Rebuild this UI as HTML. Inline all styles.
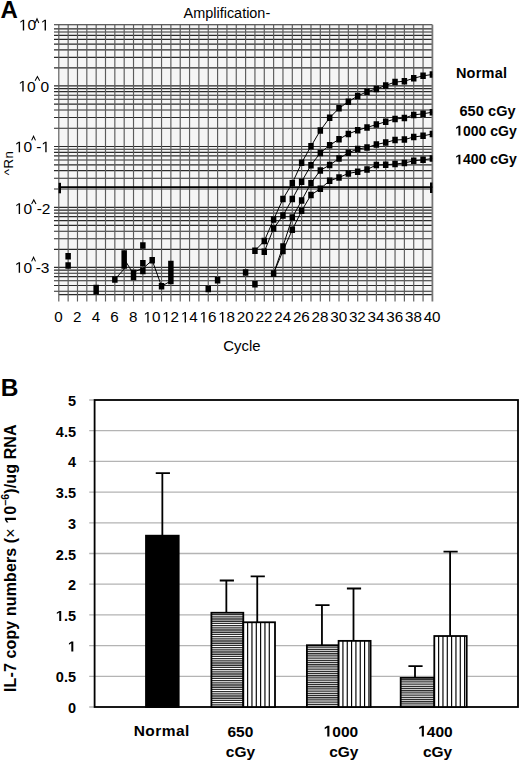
<!DOCTYPE html>
<html><head><meta charset="utf-8"><style>
html,body{margin:0;padding:0;background:#fff;}
svg{display:block;}
text{font-family:"Liberation Sans", sans-serif;fill:#000;font-kerning:none;}
</style></head><body>
<svg width="520" height="763" viewBox="0 0 520 763">
<rect width="520" height="763" fill="#fff"/>
<rect x="58.80" y="24.70" width="373.60" height="269.90" fill="#f5f5f5"/>
<clipPath id="pa"><rect x="58.80" y="20.70" width="373.60" height="273.90"/></clipPath>
<path d="M54.0 291.28H432.40M54.0 285.46H432.40M54.0 280.71H432.40M54.0 276.69H432.40M54.0 273.21H432.40M54.0 270.15H432.40M54.0 267.40H432.40M54.0 249.31H432.40M54.0 238.73H432.40M54.0 231.22H432.40M54.0 225.39H432.40M54.0 220.63H432.40M54.0 216.61H432.40M54.0 213.12H432.40M54.0 210.05H432.40M54.0 207.30H432.40M54.0 189.00H432.40M54.0 178.29H432.40M54.0 170.69H432.40M54.0 164.80H432.40M54.0 159.99H432.40M54.0 155.92H432.40M54.0 152.39H432.40M54.0 149.28H432.40M54.0 146.50H432.40M54.0 128.23H432.40M54.0 117.54H432.40M54.0 109.95H432.40M54.0 104.07H432.40M54.0 99.27H432.40M54.0 95.20H432.40M54.0 91.68H432.40M54.0 88.58H432.40M54.0 85.80H432.40M54.0 67.86H432.40M54.0 57.36H432.40M54.0 49.92H432.40M54.0 44.14H432.40M54.0 39.42H432.40M54.0 35.43H432.40M54.0 31.98H432.40M54.0 28.93H432.40M54.0 24.70H432.40" stroke="#2a2a2a" stroke-width="1.15" fill="none"/>
<path d="M58.80 294.60H432.40" stroke="#2a2a2a" stroke-width="1.15" fill="none"/>
<path d="M58.80 24.70V301.5M68.14 24.70V301.5M77.48 24.70V301.5M86.82 24.70V301.5M96.16 24.70V301.5M105.50 24.70V301.5M114.84 24.70V301.5M124.18 24.70V301.5M133.52 24.70V301.5M142.86 24.70V301.5M152.20 24.70V301.5M161.54 24.70V301.5M170.88 24.70V301.5M180.22 24.70V301.5M189.56 24.70V301.5M198.90 24.70V301.5M208.24 24.70V301.5M217.58 24.70V301.5M226.92 24.70V301.5M236.26 24.70V301.5M245.60 24.70V301.5M254.94 24.70V301.5M264.28 24.70V301.5M273.62 24.70V301.5M282.96 24.70V301.5M292.30 24.70V301.5M301.64 24.70V301.5M310.98 24.70V301.5M320.32 24.70V301.5M329.66 24.70V301.5M339.00 24.70V301.5M348.34 24.70V301.5M357.68 24.70V301.5M367.02 24.70V301.5M376.36 24.70V301.5M385.70 24.70V301.5M395.04 24.70V301.5M404.38 24.70V301.5M413.72 24.70V301.5M423.06 24.70V301.5" stroke="#5c5c5c" stroke-width="1.15" fill="none"/>
<path d="M432.40 24.70V301.5" stroke="#777" stroke-width="1.8" fill="none"/>
<path d="M58.80 187.2H432.40" stroke="#000" stroke-width="1.8"/>
<rect x="58.60" y="182.8" width="2.4" height="10.5" fill="#000"/>
<rect x="430.00" y="182.5" width="2.4" height="10.5" fill="#000"/>
<g clip-path="url(#pa)">
<path d="M254.94 250.70L264.28 241.00L273.62 219.50L282.96 199.00L292.30 183.20L301.64 162.80L310.98 146.30L320.32 130.50L329.66 117.80L339.00 108.30L348.34 101.70L357.68 96.00L367.02 91.70L376.36 89.00L385.70 85.40L395.04 82.10L404.38 81.20L413.72 78.30L423.06 75.80L432.40 74.50M264.28 251.80L273.62 228.50L282.96 215.50L292.30 199.00L301.64 181.70L310.98 165.20L320.32 152.90L329.66 145.20L339.00 139.30L348.34 133.90L357.68 130.30L367.02 127.40L376.36 124.60L385.70 121.70L395.04 119.10L404.38 118.00L413.72 114.90L423.06 113.80L432.40 112.20M273.62 273.40L282.96 246.40L292.30 217.50L301.64 200.50L310.98 183.20L320.32 170.40L329.66 165.00L339.00 158.60L348.34 152.80L357.68 149.00L367.02 147.50L376.36 144.50L385.70 142.50L395.04 140.00L404.38 139.60L413.72 137.00L423.06 135.80L432.40 134.00M273.62 273.40L282.96 250.90L292.30 229.80L301.64 210.80L310.98 195.00L320.32 188.70L329.66 180.80L339.00 177.50L348.34 173.40L357.68 171.80L367.02 169.50L376.36 165.00L385.70 164.80L395.04 164.00L404.38 163.00L413.72 160.80L423.06 159.80L432.40 158.50M114.84 279.40L124.18 269.00L124.18 259.00L133.52 274.00L133.52 272.00L142.86 268.50L152.20 260.30L161.54 286.20L170.88 281.00" stroke="#000" stroke-width="1" fill="none"/>
<path d="M252.19 247.45h5.5v6.5h-5.5zM261.53 237.75h5.5v6.5h-5.5zM270.87 216.25h5.5v6.5h-5.5zM280.21 195.75h5.5v6.5h-5.5zM289.55 179.95h5.5v6.5h-5.5zM298.89 159.55h5.5v6.5h-5.5zM308.23 143.05h5.5v6.5h-5.5zM317.57 127.25h5.5v6.5h-5.5zM326.91 114.55h5.5v6.5h-5.5zM336.25 105.05h5.5v6.5h-5.5zM345.59 98.45h5.5v6.5h-5.5zM354.93 92.75h5.5v6.5h-5.5zM364.27 88.45h5.5v6.5h-5.5zM373.61 85.75h5.5v6.5h-5.5zM382.95 82.15h5.5v6.5h-5.5zM392.29 78.85h5.5v6.5h-5.5zM401.63 77.95h5.5v6.5h-5.5zM410.97 75.05h5.5v6.5h-5.5zM420.31 72.55h5.5v6.5h-5.5zM429.65 71.25h5.5v6.5h-5.5zM261.53 248.55h5.5v6.5h-5.5zM270.87 225.25h5.5v6.5h-5.5zM280.21 212.25h5.5v6.5h-5.5zM289.55 195.75h5.5v6.5h-5.5zM298.89 178.45h5.5v6.5h-5.5zM308.23 161.95h5.5v6.5h-5.5zM317.57 149.65h5.5v6.5h-5.5zM326.91 141.95h5.5v6.5h-5.5zM336.25 136.05h5.5v6.5h-5.5zM345.59 130.65h5.5v6.5h-5.5zM354.93 127.05h5.5v6.5h-5.5zM364.27 124.15h5.5v6.5h-5.5zM373.61 121.35h5.5v6.5h-5.5zM382.95 118.45h5.5v6.5h-5.5zM392.29 115.85h5.5v6.5h-5.5zM401.63 114.75h5.5v6.5h-5.5zM410.97 111.65h5.5v6.5h-5.5zM420.31 110.55h5.5v6.5h-5.5zM429.65 108.95h5.5v6.5h-5.5zM270.87 270.15h5.5v6.5h-5.5zM280.21 243.15h5.5v6.5h-5.5zM289.55 214.25h5.5v6.5h-5.5zM298.89 197.25h5.5v6.5h-5.5zM308.23 179.95h5.5v6.5h-5.5zM317.57 167.15h5.5v6.5h-5.5zM326.91 161.75h5.5v6.5h-5.5zM336.25 155.35h5.5v6.5h-5.5zM345.59 149.55h5.5v6.5h-5.5zM354.93 145.75h5.5v6.5h-5.5zM364.27 144.25h5.5v6.5h-5.5zM373.61 141.25h5.5v6.5h-5.5zM382.95 139.25h5.5v6.5h-5.5zM392.29 136.75h5.5v6.5h-5.5zM401.63 136.35h5.5v6.5h-5.5zM410.97 133.75h5.5v6.5h-5.5zM420.31 132.55h5.5v6.5h-5.5zM429.65 130.75h5.5v6.5h-5.5zM270.87 270.15h5.5v6.5h-5.5zM280.21 247.65h5.5v6.5h-5.5zM289.55 226.55h5.5v6.5h-5.5zM298.89 207.55h5.5v6.5h-5.5zM308.23 191.75h5.5v6.5h-5.5zM317.57 185.45h5.5v6.5h-5.5zM326.91 177.55h5.5v6.5h-5.5zM336.25 174.25h5.5v6.5h-5.5zM345.59 170.15h5.5v6.5h-5.5zM354.93 168.55h5.5v6.5h-5.5zM364.27 166.25h5.5v6.5h-5.5zM373.61 161.75h5.5v6.5h-5.5zM382.95 161.55h5.5v6.5h-5.5zM392.29 160.75h5.5v6.5h-5.5zM401.63 159.75h5.5v6.5h-5.5zM410.97 157.55h5.5v6.5h-5.5zM420.31 156.55h5.5v6.5h-5.5zM429.65 155.25h5.5v6.5h-5.5zM65.39 253.05h5.5v6.5h-5.5zM65.39 262.25h5.5v6.5h-5.5zM93.41 284.75h5.5v6.5h-5.5zM93.41 288.25h5.5v6.5h-5.5zM112.09 276.15h5.5v6.5h-5.5zM121.43 250.25h5.5v6.5h-5.5zM121.43 256.25h5.5v6.5h-5.5zM121.43 262.25h5.5v6.5h-5.5zM130.77 269.75h5.5v6.5h-5.5zM130.77 273.75h5.5v6.5h-5.5zM140.11 242.15h5.5v6.5h-5.5zM140.11 260.05h5.5v6.5h-5.5zM140.11 267.75h5.5v6.5h-5.5zM149.45 256.95h5.5v6.5h-5.5zM158.79 282.95h5.5v6.5h-5.5zM168.13 260.75h5.5v6.5h-5.5zM168.13 266.75h5.5v6.5h-5.5zM168.13 272.75h5.5v6.5h-5.5zM168.13 277.75h5.5v6.5h-5.5zM205.49 285.65h5.5v6.5h-5.5zM214.83 277.05h5.5v6.5h-5.5zM242.85 269.35h5.5v6.5h-5.5zM252.19 281.05h5.5v6.5h-5.5z" fill="#000"/>
</g>
<text x="0.5" y="18.2" font-size="24" font-weight="bold">A</text>
<text x="183.6" y="17.6" font-size="15.3" textLength="86.6" lengthAdjust="spacingAndGlyphs">Amplification-</text>
<text x="18.90" y="30.40" font-size="15.5"> 0</text><path d="M22.80 30.40L24.17 30.40L24.17 19.74L22.91 19.74L20.39 21.47L20.39 22.76L22.80 21.04z"/>
<text x="40.70" y="30.40" font-size="15.5"> </text><path d="M44.60 30.40L45.97 30.40L45.97 19.74L44.71 19.74L42.19 21.47L42.19 22.76L44.60 21.04z"/>
<path d="M35.2 23.0L37.00 18.8L38.8 23.0" stroke="#000" stroke-width="1.05" fill="none"/>
<text x="18.40" y="91.60" font-size="15.5"> 0</text><path d="M22.30 91.60L23.67 91.60L23.67 80.94L22.41 80.94L19.89 82.67L19.89 83.96L22.30 82.24z"/>
<text x="40.40" y="91.60" font-size="15.5">0</text>
<path d="M35.1 80.8L37.40 76.6L39.7 80.8" stroke="#000" stroke-width="1.05" fill="none"/>
<text x="14.80" y="152.30" font-size="15.5"> 0</text><path d="M18.70 152.30L20.07 152.30L20.07 141.64L18.81 141.64L16.29 143.37L16.29 144.66L18.70 142.94z"/>
<text x="36.20" y="152.30" font-size="15.5">- </text><path d="M45.26 152.30L46.63 152.30L46.63 141.64L45.37 141.64L42.85 143.37L42.85 144.66L45.26 142.94z"/>
<path d="M31.6 140.4L33.55 136.2L35.5 140.4" stroke="#000" stroke-width="1.05" fill="none"/>
<text x="14.80" y="213.90" font-size="15.5"> 0</text><path d="M18.70 213.90L20.07 213.90L20.07 203.24L18.81 203.24L16.29 204.97L16.29 206.26L18.70 204.54z"/>
<text x="36.70" y="213.90" font-size="15.5">-2</text>
<path d="M31.6 204.1L33.80 199.9L36.0 204.1" stroke="#000" stroke-width="1.05" fill="none"/>
<text x="14.80" y="272.80" font-size="15.5"> 0</text><path d="M18.70 272.80L20.07 272.80L20.07 262.14L18.81 262.14L16.29 263.87L16.29 265.16L18.70 263.44z"/>
<text x="35.70" y="272.80" font-size="15.5">-3</text>
<path d="M31.6 261.4L33.55 257.2L35.5 261.4" stroke="#000" stroke-width="1.05" fill="none"/>
<text transform="translate(13.1,175.3) rotate(-90)" font-size="13.3" letter-spacing="0.5">^Rn</text>
<text x="54.27" y="322.40" font-size="15.2">0</text>
<text x="72.95" y="322.40" font-size="15.2">2</text>
<text x="91.63" y="322.40" font-size="15.2">4</text>
<text x="110.31" y="322.40" font-size="15.2">6</text>
<text x="128.99" y="322.40" font-size="15.2">8</text>
<text x="143.45" y="322.40" font-size="15.2"> 0</text><path d="M147.27 322.40L148.61 322.40L148.61 311.94L147.38 311.94L144.91 313.64L144.91 314.90L147.27 313.22z"/>
<text x="162.13" y="322.40" font-size="15.2"> 2</text><path d="M165.95 322.40L167.29 322.40L167.29 311.94L166.06 311.94L163.59 313.64L163.59 314.90L165.95 313.22z"/>
<text x="180.81" y="322.40" font-size="15.2"> 4</text><path d="M184.63 322.40L185.97 322.40L185.97 311.94L184.74 311.94L182.27 313.64L182.27 314.90L184.63 313.22z"/>
<text x="199.49" y="322.40" font-size="15.2"> 6</text><path d="M203.31 322.40L204.65 322.40L204.65 311.94L203.42 311.94L200.95 313.64L200.95 314.90L203.31 313.22z"/>
<text x="218.17" y="322.40" font-size="15.2"> 8</text><path d="M221.99 322.40L223.33 322.40L223.33 311.94L222.10 311.94L219.63 313.64L219.63 314.90L221.99 313.22z"/>
<text x="236.85" y="322.40" font-size="15.2">20</text>
<text x="255.53" y="322.40" font-size="15.2">22</text>
<text x="274.21" y="322.40" font-size="15.2">24</text>
<text x="292.89" y="322.40" font-size="15.2">26</text>
<text x="311.57" y="322.40" font-size="15.2">28</text>
<text x="330.25" y="322.40" font-size="15.2">30</text>
<text x="348.93" y="322.40" font-size="15.2">32</text>
<text x="367.61" y="322.40" font-size="15.2">34</text>
<text x="386.29" y="322.40" font-size="15.2">36</text>
<text x="404.97" y="322.40" font-size="15.2">38</text>
<text x="423.65" y="322.40" font-size="15.2">40</text>
<text x="223.3" y="351.3" font-size="15.4" textLength="37.2" lengthAdjust="spacingAndGlyphs">Cycle</text>
<text x="455.90" y="77.80" font-size="14.5" font-weight="bold" letter-spacing="0.25">Normal</text>
<text x="459.40" y="115.90" font-size="14.5" font-weight="bold" letter-spacing="0.1">650 cGy</text>
<text x="455.20" y="135.50" font-size="14" font-weight="bold"> 000 cGy</text><path d="M458.47 135.50L460.39 135.50L460.39 125.87L458.57 125.87L456.16 127.43L456.16 128.94L458.47 127.50z"/>
<text x="455.20" y="164.30" font-size="14" font-weight="bold"> 400 cGy</text><path d="M458.47 164.30L460.39 164.30L460.39 154.67L458.57 154.67L456.16 156.23L456.16 157.74L458.47 156.30z"/>
<path d="M89.2 676.30H518.00M89.2 645.60H518.00M89.2 614.90H518.00M89.2 584.20H518.00M89.2 553.50H518.00M89.2 522.80H518.00M89.2 492.10H518.00M89.2 461.40H518.00M89.2 430.70H518.00" stroke="#b4b4b4" stroke-width="1.3" fill="none"/>
<path d="M89.2 400H94.6M89.2 707H94.6" stroke="#b4b4b4" stroke-width="1.3" fill="none"/>
<rect x="94.6" y="400" width="423.4" height="307" fill="none" stroke="#000" stroke-width="1.8"/>
<defs>
<pattern id="hs" width="4" height="2.3" patternUnits="userSpaceOnUse"><rect width="4" height="2.3" fill="#fff"/><rect width="4" height="1.4" fill="#333"/></pattern>
<pattern id="vs" width="4.33" height="4" patternUnits="userSpaceOnUse" x="243.3"><rect width="4.33" height="4" fill="#fff"/><rect x="3.6" width="1.1" height="4" fill="#000"/></pattern>
</defs>
<path d="M162.35 535.69V473.07M155.75 473.07H169.95" stroke="#000" stroke-width="1.8"/>
<rect x="146.00" y="535.69" width="32.70" height="171.31" fill="#000" stroke="#000" stroke-width="1.8"/>
<path d="M226.35 612.75V580.52M219.75 580.52H233.95" stroke="#000" stroke-width="1.8"/>
<rect x="211.40" y="612.75" width="31.90" height="94.25" fill="#fff"/>
<path d="M211.40 613.95h31.90v1.35h-31.90zM211.40 616.15h31.90v1.35h-31.90zM211.40 618.35h31.90v1.35h-31.90zM211.40 620.55h31.90v1.35h-31.90zM211.40 622.75h31.90v1.35h-31.90zM211.40 624.95h31.90v1.35h-31.90zM211.40 627.15h31.90v1.35h-31.90zM211.40 629.35h31.90v1.35h-31.90zM211.40 631.55h31.90v1.35h-31.90zM211.40 633.75h31.90v1.35h-31.90zM211.40 635.95h31.90v1.35h-31.90zM211.40 638.15h31.90v1.35h-31.90zM211.40 640.35h31.90v1.35h-31.90zM211.40 642.55h31.90v1.35h-31.90zM211.40 644.75h31.90v1.35h-31.90zM211.40 646.95h31.90v1.35h-31.90zM211.40 649.15h31.90v1.35h-31.90zM211.40 651.35h31.90v1.35h-31.90zM211.40 653.55h31.90v1.35h-31.90zM211.40 655.75h31.90v1.35h-31.90zM211.40 657.95h31.90v1.35h-31.90zM211.40 660.15h31.90v1.35h-31.90zM211.40 662.35h31.90v1.35h-31.90zM211.40 664.55h31.90v1.35h-31.90zM211.40 666.75h31.90v1.35h-31.90zM211.40 668.95h31.90v1.35h-31.90zM211.40 671.15h31.90v1.35h-31.90zM211.40 673.35h31.90v1.35h-31.90zM211.40 675.55h31.90v1.35h-31.90zM211.40 677.75h31.90v1.35h-31.90zM211.40 679.95h31.90v1.35h-31.90zM211.40 682.15h31.90v1.35h-31.90zM211.40 684.35h31.90v1.35h-31.90zM211.40 686.55h31.90v1.35h-31.90zM211.40 688.75h31.90v1.35h-31.90zM211.40 690.95h31.90v1.35h-31.90zM211.40 693.15h31.90v1.35h-31.90zM211.40 695.35h31.90v1.35h-31.90zM211.40 697.55h31.90v1.35h-31.90zM211.40 699.75h31.90v1.35h-31.90zM211.40 701.95h31.90v1.35h-31.90zM211.40 704.15h31.90v1.35h-31.90z" fill="#2e2e2e"/>
<rect x="211.40" y="612.75" width="31.90" height="94.25" fill="none" stroke="#000" stroke-width="1.8"/>
<path d="M257.25 622.27V576.40M250.65 576.40H264.85" stroke="#000" stroke-width="1.8"/>
<rect x="243.30" y="622.27" width="31.70" height="84.73" fill="#fff"/>
<path d="M247.63 622.27v84.73M251.96 622.27v84.73M256.29 622.27v84.73M260.62 622.27v84.73M264.95 622.27v84.73M269.28 622.27v84.73" stroke="#000" stroke-width="1.15"/>
<rect x="243.30" y="622.27" width="31.70" height="84.73" fill="none" stroke="#000" stroke-width="1.8"/>
<path d="M321.95 645.23V605.20M315.35 605.20H329.55" stroke="#000" stroke-width="1.8"/>
<rect x="306.90" y="645.23" width="31.70" height="61.77" fill="#fff"/>
<path d="M306.90 646.43h31.70v1.35h-31.70zM306.90 648.63h31.70v1.35h-31.70zM306.90 650.83h31.70v1.35h-31.70zM306.90 653.03h31.70v1.35h-31.70zM306.90 655.23h31.70v1.35h-31.70zM306.90 657.43h31.70v1.35h-31.70zM306.90 659.63h31.70v1.35h-31.70zM306.90 661.83h31.70v1.35h-31.70zM306.90 664.03h31.70v1.35h-31.70zM306.90 666.23h31.70v1.35h-31.70zM306.90 668.43h31.70v1.35h-31.70zM306.90 670.63h31.70v1.35h-31.70zM306.90 672.83h31.70v1.35h-31.70zM306.90 675.03h31.70v1.35h-31.70zM306.90 677.23h31.70v1.35h-31.70zM306.90 679.43h31.70v1.35h-31.70zM306.90 681.63h31.70v1.35h-31.70zM306.90 683.83h31.70v1.35h-31.70zM306.90 686.03h31.70v1.35h-31.70zM306.90 688.23h31.70v1.35h-31.70zM306.90 690.43h31.70v1.35h-31.70zM306.90 692.63h31.70v1.35h-31.70zM306.90 694.83h31.70v1.35h-31.70zM306.90 697.03h31.70v1.35h-31.70zM306.90 699.23h31.70v1.35h-31.70zM306.90 701.43h31.70v1.35h-31.70zM306.90 703.63h31.70v1.35h-31.70zM306.90 705.83h31.70v1.35h-31.70z" fill="#2e2e2e"/>
<rect x="306.90" y="645.23" width="31.70" height="61.77" fill="none" stroke="#000" stroke-width="1.8"/>
<path d="M353.50 640.87V588.50M346.90 588.50H361.10" stroke="#000" stroke-width="1.8"/>
<rect x="338.60" y="640.87" width="32.00" height="66.13" fill="#fff"/>
<path d="M342.93 640.87v66.13M347.26 640.87v66.13M351.59 640.87v66.13M355.92 640.87v66.13M360.25 640.87v66.13M364.58 640.87v66.13M368.91 640.87v66.13" stroke="#000" stroke-width="1.15"/>
<rect x="338.60" y="640.87" width="32.00" height="66.13" fill="none" stroke="#000" stroke-width="1.8"/>
<path d="M415.00 677.84V666.17M408.40 666.17H422.60" stroke="#000" stroke-width="1.8"/>
<rect x="400.70" y="677.84" width="33.60" height="29.16" fill="#fff"/>
<path d="M400.70 679.04h33.60v1.35h-33.60zM400.70 681.24h33.60v1.35h-33.60zM400.70 683.44h33.60v1.35h-33.60zM400.70 685.64h33.60v1.35h-33.60zM400.70 687.84h33.60v1.35h-33.60zM400.70 690.04h33.60v1.35h-33.60zM400.70 692.24h33.60v1.35h-33.60zM400.70 694.44h33.60v1.35h-33.60zM400.70 696.64h33.60v1.35h-33.60zM400.70 698.84h33.60v1.35h-33.60zM400.70 701.04h33.60v1.35h-33.60zM400.70 703.24h33.60v1.35h-33.60zM400.70 705.44h33.60v1.35h-33.60z" fill="#2e2e2e"/>
<rect x="400.70" y="677.84" width="33.60" height="29.16" fill="none" stroke="#000" stroke-width="1.8"/>
<path d="M450.10 636.02V551.66M443.50 551.66H457.70" stroke="#000" stroke-width="1.8"/>
<rect x="434.30" y="636.02" width="32.40" height="70.98" fill="#fff"/>
<path d="M438.63 636.02v70.98M442.96 636.02v70.98M447.29 636.02v70.98M451.62 636.02v70.98M455.95 636.02v70.98M460.28 636.02v70.98M464.61 636.02v70.98" stroke="#000" stroke-width="1.15"/>
<rect x="434.30" y="636.02" width="32.40" height="70.98" fill="none" stroke="#000" stroke-width="1.8"/>
<text x="67.94" y="713.00" font-size="14.5" font-weight="bold">0</text>
<text x="55.84" y="682.30" font-size="14.5" font-weight="bold">0.5</text>
<text x="67.94" y="651.60" font-size="14.5" font-weight="bold"> </text><path d="M71.32 651.60L73.31 651.60L73.31 641.62L71.43 641.62L68.93 643.25L68.93 644.81L71.32 643.32z"/>
<text x="55.84" y="620.90" font-size="14.5" font-weight="bold"> .5</text><path d="M59.23 620.90L61.22 620.90L61.22 610.92L59.33 610.92L56.83 612.55L56.83 614.11L59.23 612.62z"/>
<text x="67.94" y="590.20" font-size="14.5" font-weight="bold">2</text>
<text x="55.84" y="559.50" font-size="14.5" font-weight="bold">2.5</text>
<text x="67.94" y="528.80" font-size="14.5" font-weight="bold">3</text>
<text x="55.84" y="498.10" font-size="14.5" font-weight="bold">3.5</text>
<text x="67.94" y="467.40" font-size="14.5" font-weight="bold">4</text>
<text x="55.84" y="436.70" font-size="14.5" font-weight="bold">4.5</text>
<text x="67.94" y="406.00" font-size="14.5" font-weight="bold">5</text>
<text x="0.8" y="396" font-size="24.5" font-weight="bold">B</text>
<text x="161.7" y="736.2" font-size="15.5" font-weight="bold" letter-spacing="0.45" text-anchor="middle">Normal</text>
<text x="227.47" y="736.50" font-size="15.5" font-weight="bold">650</text>
<text x="240.5" y="756.8" font-size="15.5" font-weight="bold" text-anchor="middle">cGy</text>
<text x="323.66" y="736.50" font-size="15.5" font-weight="bold"> 000</text><path d="M327.28 736.50L329.40 736.50L329.40 725.84L327.39 725.84L324.72 727.57L324.72 729.24L327.28 727.65z"/>
<text x="343.8" y="756.8" font-size="15.5" font-weight="bold" text-anchor="middle">cGy</text>
<text x="418.16" y="736.50" font-size="15.5" font-weight="bold"> 400</text><path d="M421.78 736.50L423.90 736.50L423.90 725.84L421.89 725.84L419.22 727.57L419.22 729.24L421.78 727.65z"/>
<text x="437.6" y="756.8" font-size="15.5" font-weight="bold" text-anchor="middle">cGy</text>
<g transform="translate(15.9,692) rotate(-90)">
<text x="0.00" y="0.00" font-size="16" font-weight="bold" letter-spacing="0.12">IL-7 copy numbers (</text>
<text x="154.30" y="0.00" font-size="16" letter-spacing="0.12">× </text>
<text x="168.33" y="0.00" font-size="16" font-weight="bold" letter-spacing="0.12"> 0</text><path d="M172.07 0.00L174.26 0.00L174.26 -11.01L172.18 -11.01L169.43 -9.22L169.43 -7.49L172.07 -9.14z"/>
<text x="186.07" y="-7.00" font-size="10.5" font-weight="bold" letter-spacing="0.12">−6</text>
<text x="198.28" y="0.00" font-size="16" font-weight="bold" letter-spacing="0.12">)/ug RNA</text>
</g>
</svg>
</body></html>
